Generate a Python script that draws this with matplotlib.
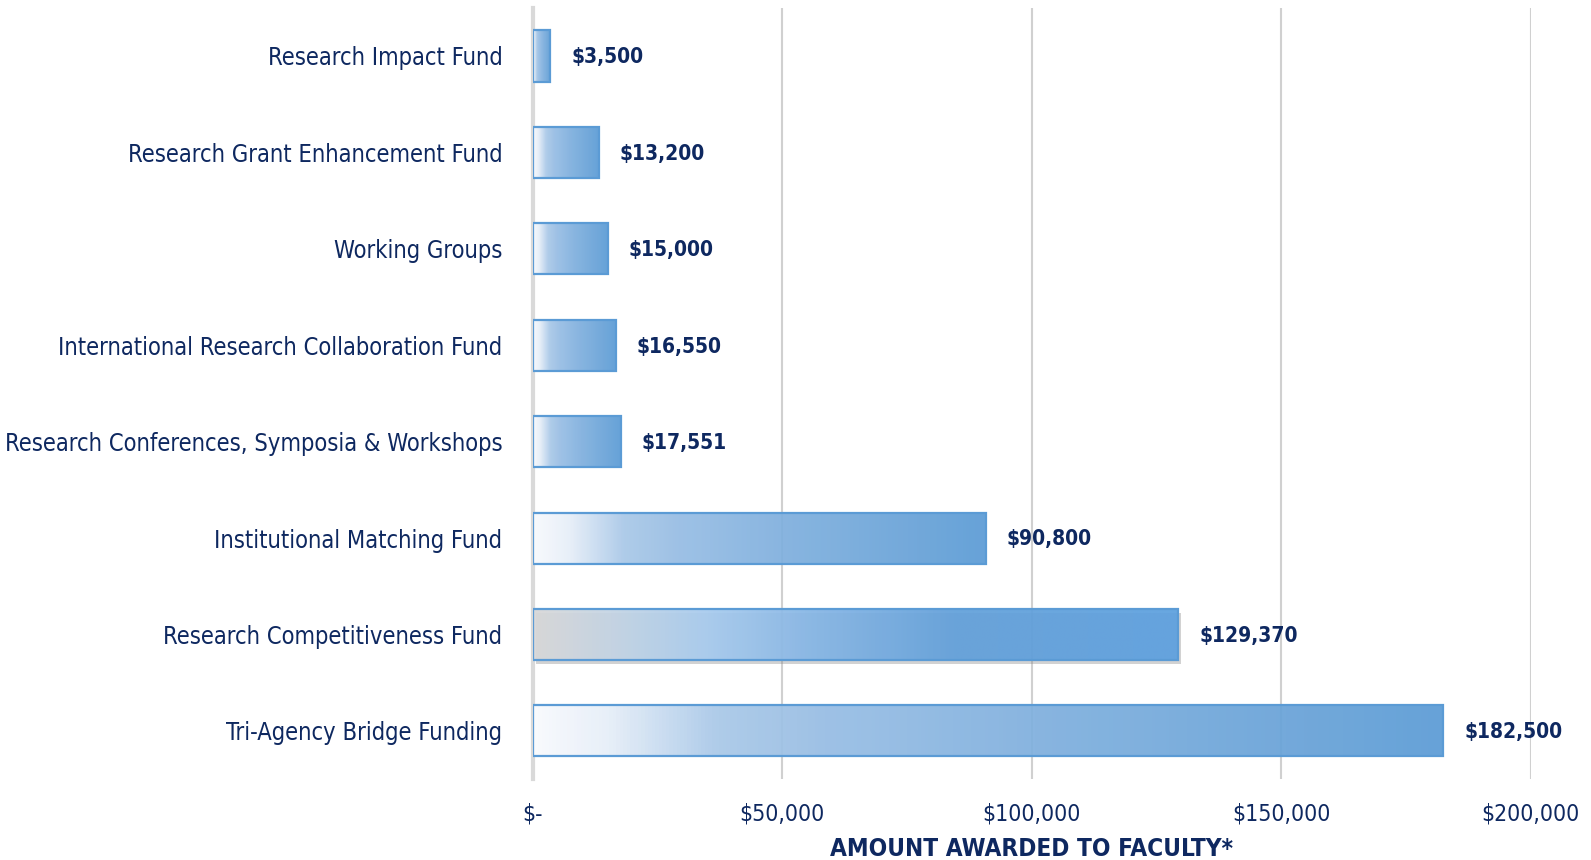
import numpy as np
import matplotlib
matplotlib.use("Agg")
import matplotlib.pyplot as plt
from matplotlib.colors import LinearSegmentedColormap
from matplotlib.patches import Rectangle
import matplotlib.patheffects as pe

# Funding programs (top to bottom) and the amounts awarded
programs = [
    "Research Impact Fund",
    "Research Grant Enhancement Fund",
    "Working Groups",
    "International Research Collaboration Fund",
    "Research Conferences, Symposia & Workshops",
    "Institutional Matching Fund",
    "Research Competitiveness Fund",
    "Tri-Agency Bridge Funding",
]
amounts = [3500, 13200, 15000, 16550, 17551, 90800, 129370, 182500]
x_ticks = [0, 50000, 100000, 150000, 200000]
x_tick_labels = ["$-", "$50,000", "$100,000", "$150,000", "$200,000"]
x_title = "AMOUNT AWARDED TO FACULTY*"

NAVY = "#0E2860"
BLUE = "#5B9BD5"

plt.rcParams["font.family"] = ["DejaVu Sans"]
plt.rcParams["font.stretch"] = "condensed"

fig = plt.figure(figsize=(15.91, 8.60), dpi=100)
ax = fig.add_axes([0.335, 0.094, 0.627, 0.897])

n = len(programs)
ypos = np.arange(n)[::-1]  # first program at the top
bar_h = 0.53

# Gradient fills: soft white fading into the series blue
default_grad = LinearSegmentedColormap.from_list(
    "fade", [(0.0, "#F8FAFD"), (0.08, "#E6EEF8"), (0.2, "#A9C8E8"),
             (0.32, "#97BDE4"), (0.55, "#80B0DE"), (1.0, BLUE)])
grey_grad = LinearSegmentedColormap.from_list(
    "fade_grey", [(0.0, "#D8D8D8"), (0.12, "#C4D4E4"), (0.27, "#A7CBEE"),
                  (0.42, "#88B7E6"), (0.65, "#62A0DA"), (1.0, "#5DA0DF")])

ax.set_xlim(0, 200000)
ax.set_ylim(-0.5, n - 0.5)

ramp = np.linspace(0, 1, 256).reshape(1, -1)
for name, val, y in zip(programs, amounts, ypos):
    shaded = name == "Research Competitiveness Fund"
    cmap = grey_grad if shaded else default_grad
    bars = ax.barh(y, val, height=bar_h, color="none", edgecolor="none", zorder=3)
    rect = bars[0]
    if shaded:
        rect.set_path_effects([pe.SimplePatchShadow(offset=(2, -3), shadow_rgbFace="#808080",
                                                    alpha=0.35)])
        rect.set_facecolor("white")
    img = ax.imshow(ramp, cmap=cmap, aspect="auto", alpha=0.93,
                    extent=[0, val, y - bar_h / 2, y + bar_h / 2],
                    interpolation="bicubic", zorder=3)
    img.set_clip_path(rect)
    ax.add_patch(Rectangle((0, y - bar_h / 2), val, bar_h, fill=False,
                           edgecolor=BLUE, linewidth=1.6, zorder=4))
    ax.annotate(f"${val:,.0f}", xy=(val, y), xytext=(15, -1),
                textcoords="offset points", va="center", ha="left",
                fontsize=15, fontweight="bold", color=NAVY, zorder=5)

ax.set_yticks(ypos)
ax.set_yticklabels(programs, fontsize=17, color=NAVY)
ax.set_xticks(x_ticks)
ax.set_xticklabels(x_tick_labels, fontsize=16.5, color=NAVY)
ax.tick_params(axis="y", length=0, pad=22)
ax.tick_params(axis="x", length=0, pad=17)
ax.set_xlabel(x_title, fontsize=17.5, fontweight="bold", color=NAVY, labelpad=8)

ax.grid(axis="x", color="#D0D0D0", linewidth=1.5, zorder=0)
ax.set_axisbelow(True)
for side in ("top", "right", "bottom"):
    ax.spines[side].set_visible(False)
ax.spines["left"].set_color("#D9D9D9")
ax.spines["left"].set_linewidth(3)
ax.spines["left"].set_zorder(2)

fig.savefig("out.png", dpi=100, facecolor="white")
